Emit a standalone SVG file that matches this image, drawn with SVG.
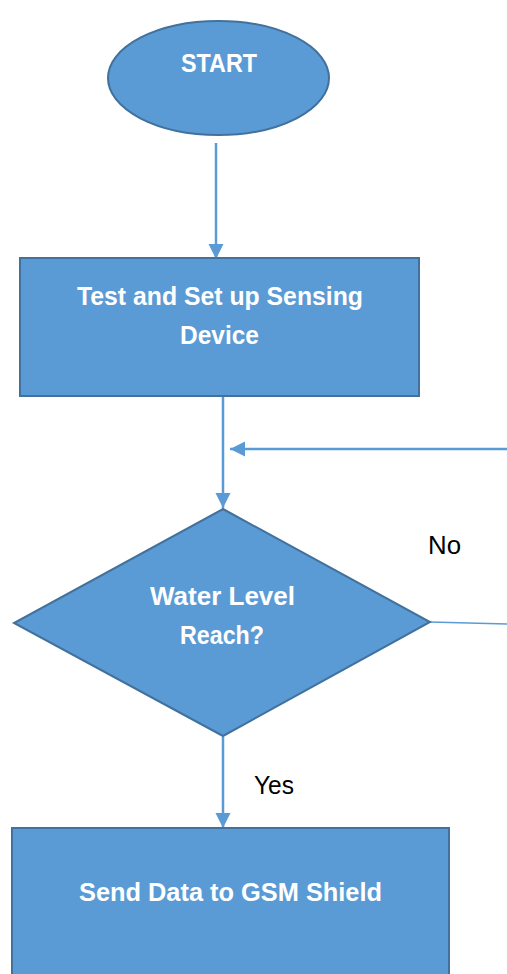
<svg xmlns="http://www.w3.org/2000/svg" width="507" height="974" viewBox="0 0 507 974">
<defs>
<style>
.shape{fill:#5B9BD5;stroke:#41719C;stroke-width:2}
.t{font-family:"Liberation Sans",Arial,sans-serif;font-weight:bold;font-size:25px;fill:#FFFFFF;text-anchor:middle}
.lbl{font-family:"Liberation Sans",Arial,sans-serif;font-size:25px;fill:#000000}
.conn{stroke:#5B9BD5;stroke-width:2.5;fill:none}
</style>
<marker id="ah" viewBox="0 0 10 10" refX="10" refY="5" markerWidth="15" markerHeight="16" markerUnits="userSpaceOnUse" orient="auto">
<path d="M0,0 L10,5 L0,10 z" fill="#5B9BD5"/>
</marker>
</defs>
<rect width="507" height="974" fill="#FFFFFF"/>
<g id="connectors">
<line class="conn" x1="216" y1="143" x2="216" y2="259" marker-end="url(#ah)"/>
<line class="conn" x1="223" y1="397" x2="223" y2="508" marker-end="url(#ah)"/>
<line class="conn" x1="507" y1="449" x2="230" y2="449" marker-end="url(#ah)"/>
<line x1="430" y1="622" x2="507" y2="624" stroke="#5B9BD5" stroke-width="1.5"/>
<line class="conn" x1="223" y1="737" x2="223" y2="828" marker-end="url(#ah)"/>
<text class="lbl" x="428" y="554" textLength="33" lengthAdjust="spacingAndGlyphs">No</text>
<text class="lbl" x="254" y="794" textLength="40" lengthAdjust="spacingAndGlyphs">Yes</text>
</g>
<g id="start">
<ellipse class="shape" cx="218.5" cy="78" rx="110.5" ry="57" stroke-width="1.5"/>
<text class="t" x="219" y="72" font-size="24" textLength="76" lengthAdjust="spacingAndGlyphs">START</text>
</g>
<g id="setup">
<rect class="shape" x="20" y="258" width="399" height="138"/>
<text class="t" x="220" y="305" textLength="286" lengthAdjust="spacingAndGlyphs">Test and Set up Sensing</text>
<text class="t" x="219.5" y="344" textLength="79" lengthAdjust="spacingAndGlyphs">Device</text>
</g>
<g id="decision">
<polygon class="shape" points="223,509 430,622 223,736 14,623" stroke-width="1.5"/>
<text class="t" x="222.5" y="605" textLength="145" lengthAdjust="spacingAndGlyphs">Water Level</text>
<text class="t" x="222" y="644" textLength="84" lengthAdjust="spacingAndGlyphs">Reach?</text>
</g>
<g id="send">
<rect class="shape" x="12" y="828" width="437" height="160"/>
<text class="t" x="230.5" y="901" textLength="303" lengthAdjust="spacingAndGlyphs">Send Data to GSM Shield</text>
</g>
</svg>
